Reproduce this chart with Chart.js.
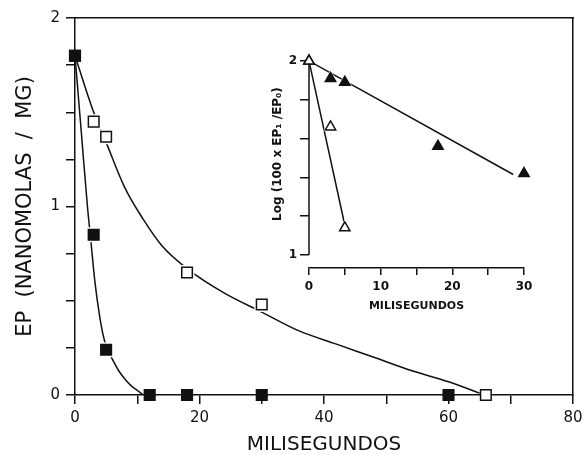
<!DOCTYPE html>
<html>
<head>
<meta charset="utf-8">
<script src="https://cdn.jsdelivr.net/npm/chart.js@4"></script>
<style>
  body { margin: 0; background: #fff; }
  #wrap { position: relative; width: 584px; height: 455px; }
  #mainChart { position: absolute; left: 0; top: 0; }
  #insetChart { position: absolute; left: 250px; top: 40px; }
</style>
</head>
<body>
<div id="wrap">
  <canvas id="mainChart" width="584" height="455"></canvas>
  <canvas id="insetChart" width="310" height="280"></canvas>
</div>
<script>
// main plot: EP vs milisegundos
const openSqX = [0, 3, 5, 18, 30, 66];
const openSqY = [1.8, 1.45, 1.37, 0.65, 0.48, 0];
const closedSqX = [0, 3, 5, 12, 18, 30, 60];
const closedSqY = [1.8, 0.85, 0.24, 0, 0, 0, 0];

// fitted curves
const openCurveX = [0, 3, 5, 8, 11, 14, 18, 24, 30, 36, 42, 48, 54, 60, 65];
const openCurveY = [1.8, 1.5, 1.34, 1.1, 0.93, 0.79, 0.67, 0.54, 0.44, 0.34, 0.27, 0.2, 0.13, 0.07, 0.01];
const closedCurveX = [0, 1, 2, 2.6, 3.2, 3.9, 4.5, 5, 6, 7, 8, 9, 10, 11];
const closedCurveY = [1.8, 1.4, 1.0, 0.8, 0.6, 0.43, 0.32, 0.26, 0.19, 0.13, 0.085, 0.05, 0.025, 0];

// inset: log plot
const insetFilledX = [0, 3, 5, 18, 30];
const insetFilledY = [2.0, 1.91, 1.89, 1.56, 1.42];
const insetOpenX = [0, 3, 5];
const insetOpenY = [2.0, 1.66, 1.14];
const insetFilledLineX = [0, 28.5];
const insetFilledLineY = [2.0, 1.415];
const insetOpenLineX = [0, 4.9];
const insetOpenLineY = [2.0, 1.17];

// ticks
const mainXLabelStep = 20;
const insetXLabelStep = 10;
const insetYTicks = [1, 1.2, 1.4, 1.6, 1.8, 2];

const ink = '#111';
const fontFam = "'DejaVu Sans', 'Liberation Sans', sans-serif";

function pts(xs, ys) {
    return xs.map((x, i) => ({ x: x, y: ys[i] }));
}

// white patch behind markers so curves stop short of them, like the original
function haloRadius(r) {
    return ctx => (ctx.raw && (ctx.raw.x === 0 || ctx.raw.y === 0)) ? 0 : r;
}

function curve(data) {
    return {
        data: data, showLine: true, pointRadius: 0, borderColor: ink, borderWidth: 1.5,
        cubicInterpolationMode: 'monotone', fill: false, order: 3
    };
}

function halo(data, style, r) {
    return {
        data: data, pointStyle: style, pointRadius: haloRadius(r), backgroundColor: '#fff',
        borderColor: '#fff', borderWidth: 0, clip: false, order: 2
    };
}

function markers(data, style, r, fill, order) {
    return {
        data: data, pointStyle: style, pointRadius: r, backgroundColor: fill,
        borderColor: ink, borderWidth: 1.5, clip: false, order: order
    };
}

Chart.defaults.font.family = fontFam;
Chart.defaults.color = ink;

new Chart(document.getElementById('mainChart'), {
    type: 'scatter',
    data: {
        datasets: [
            curve(pts(openCurveX, openCurveY)),
            curve(pts(closedCurveX, closedCurveY)),
            halo(pts(openSqX, openSqY), 'rect', 10.5),
            halo(pts(closedSqX, closedSqY), 'rect', 10.5),
            markers(pts(openSqX, openSqY), 'rect', 7.5, '#fff', 1),
            markers(pts(closedSqX, closedSqY), 'rect', 7.5, ink, 0)
        ]
    },
    options: {
        responsive: false,
        devicePixelRatio: 1,
        animation: false,
        events: [],
        layout: { padding: { top: 18, right: 11, left: 0, bottom: 0 } },
        plugins: { legend: { display: false }, tooltip: { enabled: false } },
        scales: {
            x: {
                type: 'linear', position: 'bottom', min: 0, max: 80,
                ticks: {
                    stepSize: 10, autoSkip: false, maxRotation: 0, padding: 5, color: ink,
                    font: { size: 15 },
                    callback: v => v % mainXLabelStep === 0 ? v : ''
                },
                grid: { drawOnChartArea: false, tickLength: 9, color: ink, lineWidth: 1.5 },
                border: { color: ink, width: 1.5 },
                title: {
                    display: true, text: 'MILISEGUNDOS', color: ink,
                    font: { size: 20, lineHeight: 1 }, padding: { top: 0, bottom: 0 }
                },
                afterFit: s => { s.height = 60; s.paddingRight = 0; s.paddingLeft = 0; }
            },
            y: {
                type: 'linear', position: 'left', min: 0, max: 2,
                ticks: {
                    stepSize: 0.25, autoSkip: false, padding: 6, color: ink,
                    font: { size: 15 },
                    callback: v => Number.isInteger(v) ? v : ''
                },
                grid: { drawOnChartArea: false, tickLength: 9, color: ink, lineWidth: 1.5 },
                border: { color: ink, width: 1.5 },
                title: {
                    display: true, text: 'EP  (NANOMOLAS  /  MG)', color: ink,
                    font: { size: 21, lineHeight: 1 }, padding: { top: 15, bottom: 0 }
                },
                afterFit: s => { s.width = 75; }
            },
            x2: {
                type: 'linear', axis: 'x', position: 'top', min: 0, max: 80, display: true,
                ticks: { display: false }, grid: { display: false },
                border: { color: ink, width: 1.5 },
                afterFit: s => { s.height = 0; }
            },
            y2: {
                type: 'linear', axis: 'y', position: 'right', min: 0, max: 2, display: true,
                ticks: { display: false }, grid: { display: false },
                border: { color: ink, width: 1.5 },
                afterFit: s => { s.width = 0; }
            }
        }
    }
});

// inset y axis only runs from 1 to 2, the x axis sits a bit below it
const insetAxisLine = {
    id: 'insetAxisLine',
    beforeDatasetsDraw(chart) {
        const ys = chart.scales.y;
        const ctx = chart.ctx;
        ctx.save();
        ctx.strokeStyle = ink;
        ctx.lineWidth = 1.5;
        ctx.beginPath();
        ctx.moveTo(ys.right, ys.getPixelForValue(insetYTicks[0]));
        ctx.lineTo(ys.right, ys.getPixelForValue(insetYTicks[insetYTicks.length - 1]));
        ctx.stroke();
        ctx.restore();
    }
};

new Chart(document.getElementById('insetChart'), {
    type: 'scatter',
    data: {
        datasets: [
            curve(pts(insetFilledLineX, insetFilledLineY)),
            curve(pts(insetOpenLineX, insetOpenLineY)),
            halo(pts(insetFilledX, insetFilledY), 'triangle', 8.5),
            halo(pts(insetOpenX, insetOpenY), 'triangle', 8.5),
            markers(pts(insetFilledX, insetFilledY), 'triangle', 6, ink, 1),
            markers(pts(insetOpenX, insetOpenY), 'triangle', 6, '#fff', 0)
        ]
    },
    options: {
        responsive: false,
        devicePixelRatio: 1,
        animation: false,
        events: [],
        layout: { padding: { top: 21, right: 36, left: 0, bottom: 0 } },
        plugins: { legend: { display: false }, tooltip: { enabled: false } },
        scales: {
            x: {
                type: 'linear', position: 'bottom', min: 0, max: 30,
                ticks: {
                    stepSize: 5, autoSkip: false, maxRotation: 0, padding: 5, color: ink,
                    font: { size: 12, weight: 'bold' },
                    callback: v => v % insetXLabelStep === 0 ? v : ''
                },
                grid: { drawOnChartArea: false, tickLength: 7, color: ink, lineWidth: 1.5 },
                border: { color: ink, width: 1.5 },
                title: {
                    display: true, text: 'MILISEGUNDOS', color: ink,
                    font: { size: 11, weight: 'bold', lineHeight: 1 }, padding: { top: 0, bottom: 8.5 }
                },
                afterFit: s => { s.height = 52; }
            },
            y: {
                type: 'linear', position: 'left', min: 0.933, max: 2,
                afterBuildTicks: s => { s.ticks = insetYTicks.map(v => ({ value: v })); },
                ticks: {
                    autoSkip: false, padding: 3, color: ink,
                    font: { size: 12, weight: 'bold' },
                    callback: v => Number.isInteger(v) ? v : ''
                },
                grid: { drawOnChartArea: false, tickLength: 9, color: ink, lineWidth: 1.5 },
                border: { display: false },
                title: {
                    display: true, text: '     Log (100 x EP\u2081 /EP\u2080)', color: ink,
                    font: { size: 12, weight: 'bold', lineHeight: 1 }, padding: { top: 22, bottom: 0 }
                },
                afterFit: s => { s.width = 59; }
            }
        }
    },
    plugins: [insetAxisLine]
});
</script>
</body>
</html>
